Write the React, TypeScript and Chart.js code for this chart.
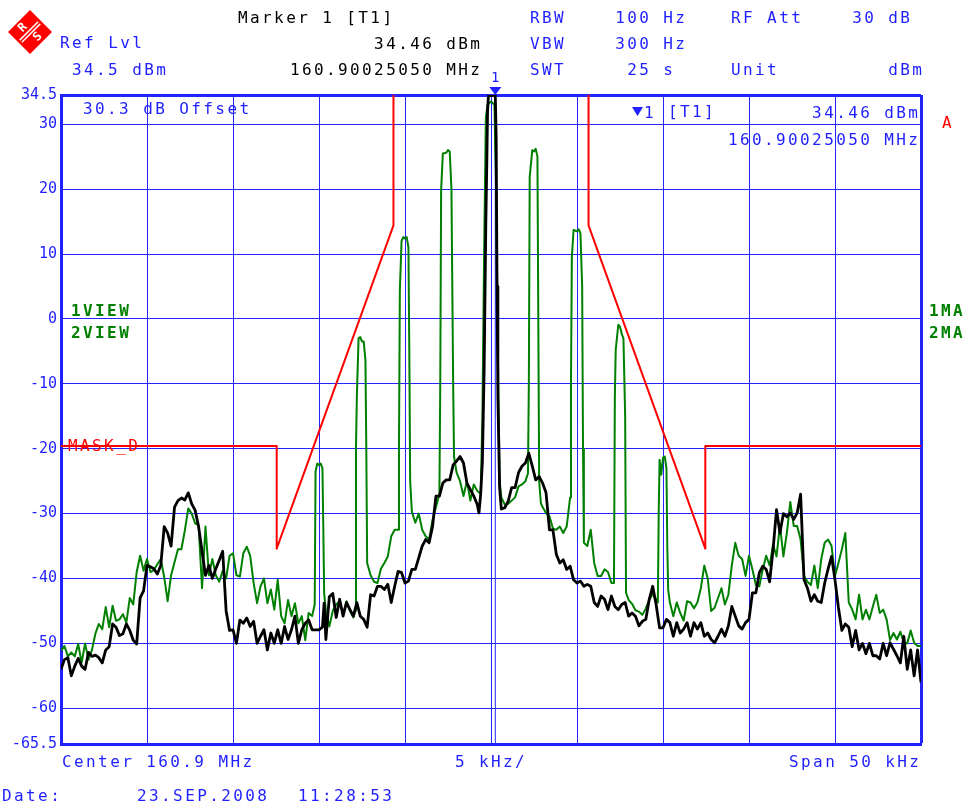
import React, { useEffect, useRef } from "react";
import { Chart, registerables } from "chart.js";

Chart.register(...registerables);

// ---------- data ----------
const X_MIN = -25; // kHz offset from 160.9 MHz
const X_MAX = 25;
const Y_MIN = -65.5; // dBm
const Y_MAX = 34.5;
const X_TICKS = [-25, -20, -15, -10, -5, 0, 5, 10, 15, 20, 25];
const Y_TICKS = [-65.5, -60, -50, -40, -30, -20, -10, 0, 10, 20, 30, 34.5];
const MARKER_FREQ = 0.2505; // kHz
const MARKER_LEVEL = 34.46;

// limit mask (kHz, dBm)
const MASK_LEFT: [number, number][] = [
  [-25, -19.6], [-12.46, -19.6], [-12.46, -35.4], [-5.67, 14.4], [-5.67, 34.5],
];
const MASK_RIGHT: [number, number][] = [
  [5.67, 34.5], [5.67, 14.4], [12.46, -35.4], [12.46, -19.6], [25, -19.6],
];

// trace 1 (black)
const TRACE_BLACK: [number, number][] = [
  [-25, -54], [-24.8, -52.5], [-24.6, -52.2], [-24.4, -55], [-24.2, -53.5], [-24, -52.3], [-23.8, -53.5], [-23.6, -54],
  [-23.4, -51.4], [-23.2, -52], [-23, -51.8], [-22.8, -52.2], [-22.6, -53], [-22.4, -51], [-22.2, -50.5], [-22, -47],
  [-21.8, -47.5], [-21.6, -48.8], [-21.4, -48.5], [-21.2, -47], [-21, -48], [-20.8, -49.5], [-20.6, -50.1], [-20.4, -43],
  [-20.2, -41.9], [-20, -38], [-19.8, -38.2], [-19.6, -38.5], [-19.4, -39.3], [-19.2, -38], [-19, -32], [-18.8, -33],
  [-18.6, -35], [-18.4, -29], [-18.2, -28], [-18, -27.6], [-17.8, -27.9], [-17.6, -26.8], [-17.4, -28.5], [-17.2, -29.5],
  [-17, -32], [-16.8, -35.8], [-16.6, -39.5], [-16.4, -38], [-16.2, -40], [-16, -38.5], [-15.8, -37.2], [-15.6, -35.8],
  [-15.4, -45], [-15.2, -48], [-15, -47.9], [-14.8, -50], [-14.6, -46.4], [-14.4, -46.9], [-14.2, -46.1], [-14, -47.4],
  [-13.8, -46.6], [-13.6, -50], [-13.4, -48.9], [-13.2, -47.9], [-13, -51], [-12.8, -48.4], [-12.6, -50], [-12.4, -47.9],
  [-12.2, -50], [-12, -47.4], [-11.8, -49.4], [-11.6, -47.9], [-11.4, -45.8], [-11.2, -50], [-11, -47.9], [-10.8, -46.9],
  [-10.6, -46.4], [-10.4, -47.9], [-10.2, -47.9], [-10, -47.9], [-9.8, -47.5], [-9.7, -43.8], [-9.6, -49.4], [-9.4, -42.8],
  [-9.2, -42.3], [-9, -46], [-8.8, -43.2], [-8.6, -45.8], [-8.4, -43.7], [-8.2, -44.8], [-8, -45.8], [-7.8, -43.7],
  [-7.6, -45.8], [-7.4, -46.3], [-7.2, -47.5], [-7, -42.5], [-6.8, -42.7], [-6.6, -41.2], [-6.4, -41.2], [-6.2, -41.7],
  [-6, -40.9], [-5.8, -43.7], [-5.6, -41.2], [-5.4, -38.9], [-5.2, -39.1], [-5, -40.7], [-4.8, -40.4], [-4.6, -38.6],
  [-4.4, -38.6], [-4.2, -36.8], [-4, -35], [-3.8, -34], [-3.6, -34.5], [-3.4, -32], [-3.2, -27.3], [-3, -27.3],
  [-2.8, -25.3], [-2.6, -24.8], [-2.4, -24.8], [-2.2, -22.5], [-2, -21.9], [-1.8, -21.2], [-1.6, -22.2], [-1.4, -25.3],
  [-1.2, -26.3], [-1, -27.3], [-0.8, -28.6], [-0.7, -29.9], [-0.6, -27], [-0.5, -22], [-0.4, -8], [-0.3, 15],
  [-0.25, 23], [-0.2, 32], [-0.15, 34.4], [0.25, 34.46], [0.3, 28], [0.35, 5], [0.4, -12], [0.5, -26],
  [0.6, -29.3], [0.8, -29.1], [1, -28.1], [1.2, -26], [1.4, -26], [1.6, -23.7], [1.8, -22.7], [2, -22.2],
  [2.2, -20.7], [2.4, -22.7], [2.6, -24.8], [2.8, -24.3], [3, -25.3], [3.2, -26.8], [3.4, -32.5], [3.6, -32.5],
  [3.8, -36.3], [4, -37.6], [4.2, -37.1], [4.4, -38.6], [4.6, -38.1], [4.8, -40.2], [5, -40.7], [5.2, -40.4],
  [5.4, -41.2], [5.6, -40.9], [5.8, -41.2], [6, -43.7], [6.2, -44.3], [6.4, -42.7], [6.6, -43.2], [6.8, -44.8],
  [7, -42.7], [7.2, -44.3], [7.4, -44.8], [7.6, -44], [7.8, -43.7], [8, -45.8], [8.2, -45.3], [8.4, -45.8],
  [8.6, -47.3], [8.8, -46.6], [9, -46.3], [9.2, -43.2], [9.4, -41.2], [9.6, -44], [9.8, -47.6], [10, -47.6],
  [10.2, -46.3], [10.4, -46.8], [10.6, -48.9], [10.8, -46.8], [11, -48.4], [11.2, -47.8], [11.4, -46.8], [11.6, -48.9],
  [11.8, -46.8], [12, -47.8], [12.2, -46.8], [12.4, -48.9], [12.6, -48.4], [12.8, -49.4], [13, -49.9], [13.2, -48.9],
  [13.4, -47.8], [13.6, -48.9], [13.8, -47.3], [14, -44.3], [14.2, -45.8], [14.4, -47.3], [14.6, -47.8], [14.8, -46.8],
  [15, -46.3], [15.2, -42.2], [15.4, -42.2], [15.6, -39.1], [15.8, -38.1], [16, -38.6], [16.2, -40.5], [16.4, -35.5],
  [16.6, -29.4], [16.8, -33], [17, -30], [17.2, -30.5], [17.4, -29.9], [17.6, -30.9], [17.8, -29.9], [18, -27],
  [18.2, -40.2], [18.4, -41.5], [18.6, -43.5], [18.8, -42.5], [19, -43.5], [19.2, -43.7], [19.4, -40.7], [19.6, -38.5],
  [19.8, -36.6], [20, -40.2], [20.2, -44.5], [20.4, -48], [20.6, -47], [20.8, -47.5], [21, -50.5], [21.2, -48],
  [21.4, -51], [21.6, -50], [21.8, -51.6], [22, -50], [22.2, -51.9], [22.4, -51.9], [22.6, -52.4], [22.8, -50],
  [23, -51.9], [23.2, -49.9], [23.4, -50.9], [23.6, -51.9], [23.8, -53], [24, -48.9], [24.2, -54], [24.4, -51],
  [24.6, -55], [24.8, -51], [25, -56],
];

// trace 2 (green)
const TRACE_GREEN: [number, number][] = [
  [-25, -51.1], [-24.8, -50.4], [-24.6, -52], [-24.4, -51.4], [-24.2, -52], [-24, -50.1], [-23.8, -53], [-23.6, -50],
  [-23.4, -52.5], [-23.2, -51], [-23, -48.5], [-22.8, -47], [-22.6, -47.8], [-22.4, -44.4], [-22.2, -47.5], [-22, -44.2],
  [-21.8, -46.5], [-21.6, -46.3], [-21.4, -45.5], [-21.2, -46.8], [-21, -43], [-20.8, -44], [-20.6, -39], [-20.4, -36.5],
  [-20.2, -38.8], [-20, -37], [-19.8, -39], [-19.6, -38.7], [-19.4, -37.8], [-19.2, -37], [-19, -39.8], [-18.8, -43.5],
  [-18.6, -39.5], [-18.4, -37.5], [-18.2, -35.5], [-18, -35.5], [-17.8, -32.6], [-17.6, -29.2], [-17.4, -30], [-17.2, -31.5],
  [-17, -31.8], [-16.8, -41.5], [-16.6, -32], [-16.4, -39.5], [-16.2, -37], [-16, -39.5], [-15.8, -40.5], [-15.6, -38.8],
  [-15.4, -40], [-15.2, -36.5], [-15, -36.1], [-14.8, -39.5], [-14.6, -39.7], [-14.4, -36.1], [-14.2, -35.1], [-14, -36.5],
  [-13.8, -40.7], [-13.6, -43.8], [-13.4, -41.2], [-13.2, -40], [-13, -43.8], [-12.8, -41.7], [-12.6, -44.8], [-12.4, -40.2],
  [-12.2, -45.8], [-12, -46.9], [-11.8, -43.3], [-11.6, -45.8], [-11.4, -43.8], [-11.2, -46.9], [-11, -45.8], [-10.8, -49.5],
  [-10.6, -45.3], [-10.4, -45.8], [-10.25, -44], [-10.2, -23.5], [-10.1, -22.3], [-10, -22.5], [-9.9, -22.3], [-9.8, -23],
  [-9.75, -32], [-9.7, -42.3], [-9.6, -45], [-9.4, -47.4], [-9.2, -45], [-9, -44], [-8.8, -43.5], [-8.6, -45.5],
  [-8.4, -43.5], [-8.2, -45], [-8, -46], [-7.9, -45], [-7.85, -20], [-7.8, -12], [-7.7, -3], [-7.6, -2.8],
  [-7.5, -3.5], [-7.4, -3.5], [-7.3, -6.4], [-7.25, -20], [-7.2, -37.6], [-7, -39.5], [-6.8, -40.5], [-6.6, -40.7],
  [-6.4, -38.5], [-6.2, -37.6], [-6, -36.6], [-5.8, -33.5], [-5.6, -32.5], [-5.4, -32.5], [-5.35, -20], [-5.3, 4.4],
  [-5.2, 12], [-5.1, 12.6], [-5, 12.4], [-4.9, 12.6], [-4.8, 11], [-4.75, -5], [-4.7, -25], [-4.6, -29.7],
  [-4.4, -31.4], [-4.2, -30], [-4, -32.5], [-3.8, -33.5], [-3.6, -34], [-3.4, -31], [-3.2, -29], [-3, -27],
  [-2.95, -10], [-2.9, 19.8], [-2.8, 25.5], [-2.6, 25.6], [-2.5, 26], [-2.4, 25.8], [-2.3, 20], [-2.2, -10],
  [-2.15, -21.2], [-2, -23.7], [-1.8, -25], [-1.6, -27.3], [-1.4, -25], [-1.2, -28], [-1, -25.5], [-0.8, -26.5],
  [-0.6, -27], [-0.5, -15], [-0.4, 10], [-0.3, 31], [-0.2, 33], [0, 33.5], [0.2, 33], [0.3, 20],
  [0.4, -5], [0.5, -25], [0.6, -27.5], [0.8, -28.6], [1, -28.5], [1.2, -28], [1.4, -27.5], [1.6, -25.8],
  [1.8, -25.5], [2, -25], [2.15, -23.8], [2.2, -10], [2.25, 21.9], [2.4, 26], [2.5, 25.8], [2.6, 26.2],
  [2.7, 25], [2.75, 0], [2.8, -25], [2.9, -28.4], [3, -29], [3.2, -29.9], [3.4, -30.4], [3.6, -32.3],
  [3.8, -32.5], [4, -32], [4.2, -33], [4.4, -32], [4.6, -27.5], [4.65, -10], [4.7, 9.5], [4.8, 13.7],
  [5, 13.5], [5.1, 13.8], [5.2, 13.2], [5.3, 5], [5.35, -20], [5.4, -34.5], [5.6, -35], [5.8, -32.5],
  [6, -37.6], [6.2, -39.6], [6.4, -39.6], [6.6, -38.6], [6.8, -39], [7, -40.7], [7.15, -40.7], [7.2, -12],
  [7.25, -4.8], [7.4, -0.9], [7.5, -1.2], [7.6, -2.3], [7.7, -3], [7.8, -15], [7.85, -42.2], [8, -43.3],
  [8.2, -43.9], [8.4, -44.9], [8.6, -45.1], [8.8, -45.6], [9, -44.6], [9.2, -43.3], [9.4, -42.4], [9.6, -43.2],
  [9.7, -43.7], [9.75, -30], [9.8, -21.7], [9.9, -24], [10, -21.4], [10.1, -21.2], [10.2, -23], [10.25, -35],
  [10.3, -41.7], [10.4, -43.7], [10.6, -45.8], [10.8, -43.7], [11, -45.3], [11.2, -46.5], [11.4, -43.5], [11.6, -43.7],
  [11.8, -44.6], [12, -43.7], [12.2, -41.5], [12.4, -38], [12.6, -40], [12.8, -45], [13, -44.5], [13.2, -43],
  [13.4, -41.5], [13.6, -44], [13.8, -42.5], [14, -38], [14.2, -34.5], [14.4, -36.5], [14.6, -37], [14.8, -39.6],
  [15, -36.5], [15.2, -38.6], [15.4, -41], [15.6, -41.2], [15.8, -38.6], [16, -36.5], [16.2, -38], [16.4, -34.8],
  [16.6, -36.6], [16.8, -31.8], [17, -36.6], [17.2, -33], [17.4, -28.2], [17.6, -31.9], [17.8, -31.9], [18, -34],
  [18.2, -39.6], [18.4, -40.5], [18.6, -41], [18.8, -38], [19, -41.5], [19.2, -37], [19.4, -34.5], [19.6, -34],
  [19.8, -35], [20, -39.6], [20.2, -37.6], [20.4, -35.5], [20.6, -33], [20.8, -43.7], [21, -44.8], [21.2, -46.3],
  [21.4, -42.5], [21.6, -46.3], [21.8, -44.8], [22, -46.3], [22.2, -44.3], [22.4, -42.5], [22.6, -45.3], [22.8, -44.8],
  [23, -46.3], [23.2, -49.5], [23.4, -48.4], [23.6, -49.4], [23.8, -48.2], [24, -49.9], [24.2, -50], [24.4, -48],
  [24.6, -49.9], [24.8, -50.4], [25, -50.4],
];

// ---------- styles ----------
const BLUE = "#1f1fff";
const GRID = "#2424ff";
const GREEN = "#008000";
const RED = "#ff0000";
const MONO = "'DejaVu Sans Mono', monospace";

const toXY = (arr: [number, number][]) => arr.map(([x, y]) => ({ x, y }));

function drawText(
  ctx: CanvasRenderingContext2D,
  s: string,
  x: number,
  y: number,
  color: string,
  align: CanvasTextAlign = "left",
  bold = false,
  size = 16,
  spacing = 2.4
) {
  ctx.save();
  ctx.font = `${bold ? "bold " : ""}${size}px ${MONO}`;
  (ctx as any).letterSpacing = `${spacing}px`;
  ctx.fillStyle = color;
  ctx.textAlign = align;
  ctx.textBaseline = "middle";
  const dx = align === "right" ? spacing : 0;
  ctx.fillText(s, x + dx, y);
  ctx.restore();
}

const annotations = {
  id: "annotations",
  afterDraw(chart: any) {
    const ctx: CanvasRenderingContext2D = chart.ctx;
    const xs = chart.scales.x;
    const ys = chart.scales.y;
    const area = chart.chartArea;

    // R&S logo
    ctx.save();
    ctx.translate(30, 32);
    ctx.beginPath();
    ctx.moveTo(0, -22);
    ctx.lineTo(22, 0);
    ctx.lineTo(0, 22);
    ctx.lineTo(-22, 0);
    ctx.closePath();
    ctx.fillStyle = RED;
    ctx.fill();
    ctx.rotate(-Math.PI / 4);
    ctx.strokeStyle = "#ffffff";
    ctx.lineWidth = 1.5;
    ctx.beginPath();
    ctx.moveTo(-13, -1.5);
    ctx.lineTo(13, -1.5);
    ctx.moveTo(-13, 1.5);
    ctx.lineTo(13, 1.5);
    ctx.stroke();
    ctx.fillStyle = "#ffffff";
    ctx.font = `bold 12px ${MONO}`;
    ctx.textAlign = "center";
    ctx.textBaseline = "middle";
    ctx.fillText("R", -2, -8);
    ctx.fillText("S", 2, 9);
    ctx.restore();

    // header
    drawText(ctx, "Marker 1 [T1]", 238, 19, "#000");
    drawText(ctx, "34.46 dBm", 480, 45, "#000", "right");
    drawText(ctx, "160.90025050 MHz", 480, 71, "#000", "right");
    drawText(ctx, "Ref Lvl", 60, 44, BLUE);
    drawText(ctx, "34.5 dBm", 72, 71, BLUE);
    drawText(ctx, "RBW", 530, 19, BLUE);
    drawText(ctx, "100 Hz", 685, 19, BLUE, "right");
    drawText(ctx, "RF Att", 731, 19, BLUE);
    drawText(ctx, "30 dB", 910, 19, BLUE, "right");
    drawText(ctx, "VBW", 530, 45, BLUE);
    drawText(ctx, "300 Hz", 685, 45, BLUE, "right");
    drawText(ctx, "SWT", 530, 71, BLUE);
    drawText(ctx, "25 s", 673, 71, BLUE, "right");
    drawText(ctx, "Unit", 731, 71, BLUE);
    drawText(ctx, "dBm", 922, 71, BLUE, "right");

    // marker symbol above the plot
    const mx = xs.getPixelForValue(MARKER_FREQ);
    drawText(ctx, "1", mx, 78, BLUE, "center", false, 14, 0);
    ctx.save();
    ctx.fillStyle = BLUE;
    ctx.beginPath();
    ctx.moveTo(mx - 6, 87);
    ctx.lineTo(mx + 6, 87);
    ctx.lineTo(mx, 95);
    ctx.closePath();
    ctx.fill();
    ctx.restore();

    // in-plot annotations
    drawText(ctx, "30.3 dB Offset", 83, 110, BLUE);
    ctx.save();
    ctx.fillStyle = BLUE;
    ctx.beginPath();
    ctx.moveTo(632, 107);
    ctx.lineTo(643, 107);
    ctx.lineTo(637.5, 116);
    ctx.closePath();
    ctx.fill();
    ctx.restore();
    drawText(ctx, "1", 644, 114, BLUE, "left", false, 16, 0);
    drawText(ctx, "[T1]", 668, 113, BLUE);
    drawText(ctx, `${MARKER_LEVEL.toFixed(2)} dBm`, 918, 114, BLUE, "right");
    drawText(ctx, "160.90025050 MHz", 918, 141, BLUE, "right");
    drawText(ctx, "A", 942, 124, RED);
    drawText(ctx, "1VIEW", 71, 312, GREEN, "left", true);
    drawText(ctx, "2VIEW", 71, 334, GREEN, "left", true);
    drawText(ctx, "1MA", 929, 312, GREEN, "left", true);
    drawText(ctx, "2MA", 929, 334, GREEN, "left", true);
    drawText(ctx, "MASK_D", 68, ys.getPixelForValue(MASK_LEFT[0][1]) + 1, RED);

    // footer
    drawText(ctx, "Center 160.9 MHz", area.left + 1, 763, BLUE);
    drawText(ctx, "5 kHz/", xs.getPixelForValue(0), 763, BLUE, "center");
    drawText(ctx, "Span 50 kHz", area.right - 2, 763, BLUE, "right");
    drawText(ctx, "Date:", 2, 797, BLUE);
    drawText(ctx, "23.SEP.2008", 137, 797, BLUE);
    drawText(ctx, "11:28:53", 298, 797, BLUE);
  },
};

export default function App() {
  const ref = useRef<HTMLCanvasElement | null>(null);

  useEffect(() => {
    if (!ref.current) return;
    const chart = new Chart(ref.current, {
      type: "line",
      data: {
        datasets: [
          {
            label: "1VIEW",
            data: toXY(TRACE_BLACK),
            borderColor: "#000000",
            borderWidth: 2.8,
          },
          {
            label: "2VIEW",
            data: toXY(TRACE_GREEN),
            borderColor: GREEN,
            borderWidth: 2,
          },
          {
            label: "MASK_D left",
            data: toXY(MASK_LEFT),
            borderColor: RED,
            borderWidth: 2,
          },
          {
            label: "MASK_D right",
            data: toXY(MASK_RIGHT),
            borderColor: RED,
            borderWidth: 2,
          },
          {
            label: "Marker line",
            data: [
              { x: MARKER_FREQ, y: Y_MIN },
              { x: MARKER_FREQ, y: Y_MAX },
            ],
            borderColor: GRID,
            borderWidth: 1,
          },
        ],
      },
      options: {
        animation: false,
        responsive: false,
        events: [],
        layout: { padding: { left: 0, top: 95, right: 46, bottom: 0 } },
        elements: {
          point: { radius: 0 },
          line: { tension: 0, borderJoinStyle: "round" as const },
        },
        plugins: {
          legend: { display: false },
          tooltip: { enabled: false },
        },
        scales: {
          x: {
            type: "linear",
            min: X_MIN,
            max: X_MAX,
            afterBuildTicks: (s: any) => {
              s.ticks = X_TICKS.map((v) => ({ value: v }));
            },
            afterFit: (s: any) => {
              s.height = 65;
            },
            ticks: { display: false },
            grid: {
              color: GRID,
              lineWidth: (c: any) => (c.tick && c.tick.value === X_MAX ? 3 : 1),
              drawTicks: false,
            },
            border: { color: BLUE, width: 3 },
          },
          y: {
            type: "linear",
            min: Y_MIN,
            max: Y_MAX,
            afterBuildTicks: (s: any) => {
              s.ticks = Y_TICKS.map((v) => ({ value: v }));
            },
            afterFit: (s: any) => {
              s.width = 61;
            },
            ticks: {
              color: BLUE,
              font: { family: MONO, size: 15 },
              padding: 4,
              callback: (v: any) => String(v),
            },
            grid: {
              color: GRID,
              lineWidth: (c: any) => (c.tick && c.tick.value === Y_MAX ? 3 : 1),
              drawTicks: false,
            },
            border: { color: BLUE, width: 3 },
          },
        },
      },
      plugins: [annotations],
    });
    return () => chart.destroy();
  }, []);

  return (
    <div style={{ position: "absolute", left: 0, top: 0, width: 967, height: 809, background: "#fff" }}>
      <canvas ref={ref} width={967} height={809} style={{ display: "block" }} />
    </div>
  );
}
